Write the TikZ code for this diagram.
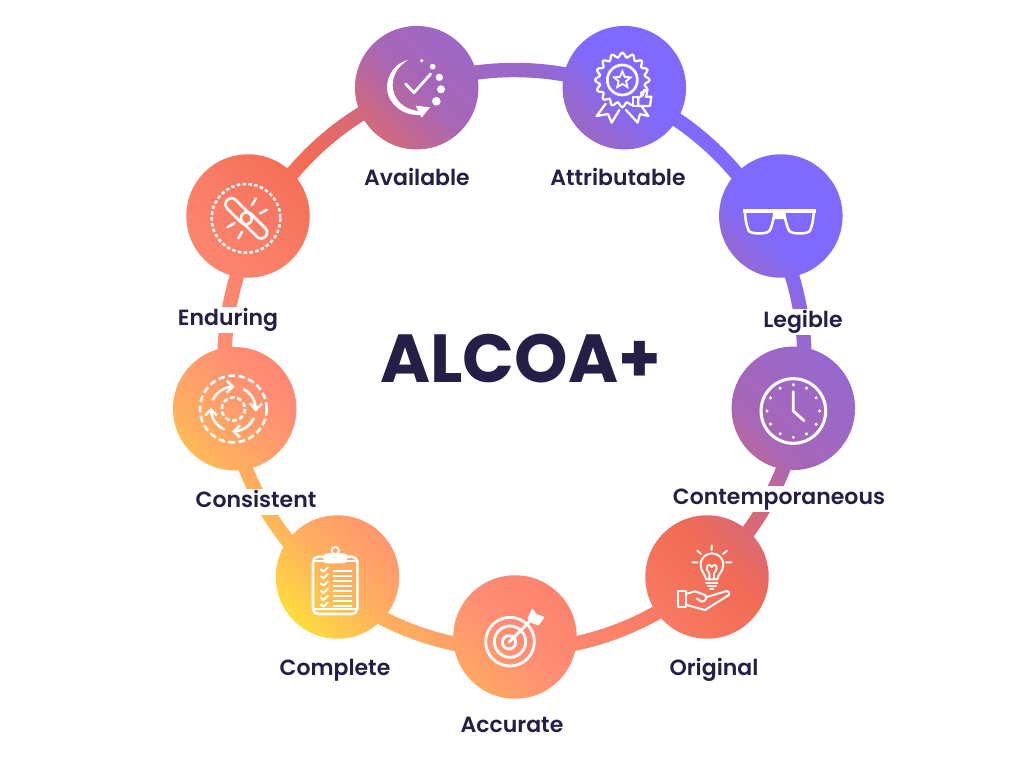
\documentclass[tikz,border=0pt]{standalone}
\usepackage{fontspec}
\setmainfont{Poppins}[BoldFont={Poppins SemiBold}]
\newfontfamily\heavyfont{Poppins Bold}
\usetikzlibrary{calc,arrows.meta,shapes.geometric,backgrounds}
\definecolor{inkc}{HTML}{231F47}
\definecolor{ga}{HTML}{FFD940}
\definecolor{gb}{HTML}{FFAE60}
\definecolor{gc}{HTML}{FF8C75}
\definecolor{gd}{HTML}{F97C66}
\definecolor{ge}{HTML}{F26B55}
\definecolor{gf}{HTML}{D4697A}
\definecolor{gg}{HTML}{A866B5}
\definecolor{gi}{HTML}{9668CE}
\definecolor{gh}{HTML}{7F69FF}
% u = x - y in pixels; t = 50 + (u-128)*0.034527
\pgfdeclareverticalshading{alcoa}{100bp}{color(0bp)=(ga); color(34.4bp)=(ga); color(37.47bp)=(gb); color(41.44bp)=(gc); color(46.6bp)=(gd); color(50.8bp)=(ge); color(53.87bp)=(gf); color(56.97bp)=(gg); color(61.8bp)=(gi); color(64.2bp)=(gh); color(100bp)=(gh)}
\tikzset{
  grad/.style={path picture={\shade[shading=alcoa,shading angle=-45] (gradA) rectangle (gradB);}},
  stage/.style={circle,minimum size=92.6pt,inner sep=0pt,grad},
  lbl/.style={anchor=base,fill=white,inner xsep=0pt,inner ysep=0pt,text height=13.5pt,text depth=6pt,text=inkc,font=\fontsize{16.5pt}{19pt}\selectfont\bfseries},
  zm/.style 2 args={x=.25pt,y=-.25pt,shift={(#1*3,#2*3)}},
  ico/.style={draw=white,line width=1.7pt,line cap=round,line join=round,fill=none}
}
\newcommand{\ringlink}[2]{%
  \path[grad] let \p1=($(#1)-(ring)$),\p2=($(#2)-(ring)$),
    \n1={mod(atan2(\y1,\x1)+360,360)},
    \n2={\n1+mod(atan2(\y2,\x2)-\n1+720,360)} in
    ($(ring)+(\n1:222.9pt)$) arc[start angle=\n1,end angle=\n2,radius=222.9pt]
    -- ($(ring)+(\n2:212.1pt)$) arc[start angle=\n2,end angle=\n1,radius=212.1pt] -- cycle;}
\begin{document}
\begin{tikzpicture}[x=.75pt,y=-.75pt]
\useasboundingbox (0,0) rectangle (1024,768);
\coordinate (gradA) at (0,-128);
\coordinate (gradB) at (1024,896);
\coordinate (ring) at (514.5,360);
\node[stage] (nAv) at (416.7,87.7) {};
\node[stage] (nAt) at (624.3,87.7) {};
\node[stage] (nLe) at (780.8,216) {};
\node[stage] (nCo) at (793.3,408.3) {};
\node[stage] (nOr) at (707,577) {};
\node[stage] (nAc) at (515,637) {};
\node[stage] (nCm) at (337.5,577) {};
\node[stage] (nCs) at (234.7,408.7) {};
\node[stage] (nEn) at (248,216) {};
\begin{pgfonlayer}{background}
\fill[white] (0,0) rectangle (1024,768);
\ringlink{nAt}{nAv}
\ringlink{nAv}{nEn}
\ringlink{nEn}{nCs}
\ringlink{nCs}{nCm}
\ringlink{nCm}{nAc}
\ringlink{nAc}{nOr}
\ringlink{nOr}{nCo}
\ringlink{nCo}{nLe}
\ringlink{nLe}{nAt}
\end{pgfonlayer}
% labels
\node[lbl] (tAv) at (417,185) {Available};
\node[lbl] (tAt) at (618,185) {Attributable};
\node[lbl] (tEn) at (228,325) {Enduring};
\node[lbl] (tLe) at (803,327) {Legible};
\node[lbl] (tCs) at (256,507) {Consistent};
\node[lbl] (tCo) at (779,504) {Contemporaneous};
\node[lbl] (tCm) at (335,675) {Complete};
\node[lbl] (tOr) at (714,675) {Original};
\node[lbl] (tAc) at (512,732) {Accurate};
\node[anchor=base,text=inkc,inner sep=0pt,font=\heavyfont\fontsize{51pt}{60pt}\selectfont] (title) at (520.5,382) {ALCOA+};
% Available icon
\begin{scope}[zm={340}{10}]
\fill[white] (205,150) .. controls (163,158) and (140,200) .. (141,235) .. controls (145,285) and (190,318) .. (243,315) -- (243,303) .. controls (195,303) and (158,270) .. (158,225) .. controls (158,192) and (178,165) .. (205,150) -- cycle;
\fill[white] (227,287) -- (270,292) -- (245,323) -- cycle;
\draw[ico,line width=2.1pt] (197,222) -- (222,248) -- (272,192);
\fill[white] (245,152) circle[radius=5.5];
\fill[white] (278,170) circle[radius=8.5];
\fill[white] (298,202) circle[radius=11];
\fill[white] (303,238) circle[radius=12];
\fill[white] (289,274) circle[radius=13];
\end{scope}
% Attributable icon
\begin{scope}[zm={340}{10}]
\draw[ico] plot[smooth cycle,samples=96,domain=0:356.25] ({847+(75+7*cos(16*\x))*cos(\x)},{210+(75+7*cos(16*\x))*sin(\x)});
\draw[ico,line width=2pt] (847,210) circle[radius=45];
\node[star,star points=5,star point ratio=2.2,draw=white,line width=1.4pt,inner sep=0pt,minimum size=13pt] (sAt) at (847,210) {};
\draw[ico] (797,281) -- (770,318) -- (804,312) -- (815,338) -- (838,300);
\draw[ico] (858,300) -- (893,338) -- (900,312) -- (925,318) -- (900,282);
\filldraw[ico,fill=gh] (878,262) rectangle (893,288);
\filldraw[ico,fill=gh] (895,264) -- (908,255) -- (913,240) .. controls (925,240) and (920,255) .. (917,260) -- (934,260) -- (930,288) -- (895,288) -- cycle;
\end{scope}
% Legible icon
\begin{scope}[zm={700}{150}]
\draw[ico,line width=2.8pt,line cap=butt] (128,184) -- (348,184);
\draw[ico,line width=1.9pt] (135,186) .. controls (135,200) and (138,225) .. (146,242) .. controls (150,252) and (198,254) .. (208,243) .. controls (215,233) and (220,210) .. (224,186);
\draw[ico,line width=1.9pt] (341,186) .. controls (341,200) and (338,225) .. (330,242) .. controls (326,252) and (278,254) .. (268,243) .. controls (261,233) and (256,210) .. (252,186);
\fill[white] (218,186) -- (258,186) -- (253,207) -- (223,207) -- cycle;
\end{scope}
% Clock icon
\begin{scope}[zm={700}{150}]
\draw[ico,line width=2.3pt] (280,783) circle[radius=97];
\foreach \a in {0,30,...,330} \fill[white] ({280+79*cos(\a)},{783+79*sin(\a)}) circle[radius=5.2];
\draw[ico,line width=2.1pt] (280,725) -- (280,783) -- (312,812);
\end{scope}
% Original icon
\begin{scope}[zm={640}{520}]
\draw[ico,line width=1.4pt] (215,76) -- (215,90) (172,92) -- (183,102) (261,92) -- (249,102) (157,127) -- (173,127) (258,127) -- (274,127);
\draw[ico,line width=1.5pt] (198,178) .. controls (195,160) and (182,155) .. (182,134) .. controls (182,112) and (200,100) .. (216,100) .. controls (235,100) and (250,115) .. (250,134) .. controls (250,155) and (235,160) .. (232,178) -- cycle;
\draw[ico,line width=1.4pt] (208,178) -- (208,160) .. controls (190,140) and (208,125) .. (215,142) .. controls (224,125) and (240,140) .. (222,160) -- (222,178);
\draw[ico,line width=1.5pt] (198,188) -- (232,188) (203,197) -- (228,197) (210,206) -- (220,206);
\draw[ico,line width=1.5pt] (113,212) rectangle (137,260);
\draw[ico,line width=1.5pt] (137,222) -- (165,214) -- (195,225) .. controls (205,232) and (195,245) .. (185,245) -- (170,235);
\draw[ico,line width=1.5pt] (197,232) -- (260,213) .. controls (270,215) and (270,225) .. (262,228) -- (195,270) -- (165,262) -- (137,254);
\end{scope}
% Accurate icon
\begin{scope}[zm={270}{510}]
\draw[ico,line width=2.1pt] (720,395) circle[radius=73];
\draw[ico,line width=2.1pt] (720,395) circle[radius=47];
\draw[ico,line width=2.1pt] (717,397) circle[radius=20];
\draw[ico,line width=2.2pt] (717,397) -- (785,328);
\filldraw[ico,line width=1.4pt,fill=white] (775,325) -- (788,300) -- (798,315) -- (820,322) -- (805,343) -- (787,337) -- cycle;
\end{scope}
% Complete icon
\begin{scope}[zm={270}{510}]
\draw[ico,line width=1.9pt,rounded corners=4pt] (129,140) rectangle (262,312);
\draw[ico,line width=1.4pt] (135,153) -- (160,153) (232,153) -- (256,153) (135,296) -- (256,296);
\fill[white,rounded corners=2.5pt] (160,130) rectangle (232,160);
\draw[ico,line width=1.4pt] (196,122) circle[radius=11];
\foreach \yy in {178,198,220,242,263,283} \draw[ico,line width=1.5pt] (152,\yy) -- (160,\yy+7) -- (174,\yy-6);
\foreach \yy in {182,197,212,228,243,258,272,287} \draw[ico,line width=1.4pt,line cap=butt] (188,\yy) -- (246,\yy);
\end{scope}
% Consistent icon
\begin{scope}[zm={160}{150}]
\draw[ico,line width=1.9pt,line cap=butt,dash pattern=on 5pt off 2.6pt] (220,777) circle[radius=100];
\draw[ico,line width=1.9pt,line cap=butt,dash pattern=on 3.5pt off 2pt] (220,777) circle[radius=35];
\foreach \a in {-155,-62,25,115}
  \draw[ico,line width=1.9pt,-{Straight Barb[length=4.5pt,width=9pt]}] plot[smooth,samples=9,domain=\a:\a+68] ({220+67*cos(\x)},{777+67*sin(\x)});
\end{scope}
% Enduring icon
\begin{scope}[zm={160}{150}]
\draw[ico,line width=1.9pt,line cap=butt,dash pattern=on 2.6pt off 1.8pt] (258,205) circle[radius=103];
\draw[ico,line width=2pt,rounded corners=4.5pt] (282.7,205.3) -- (257.3,230.7) -- (189.3,162.7) -- (214.7,137.3) -- cycle;
\draw[ico,line width=2pt,rounded corners=4.5pt] (328.7,247.3) -- (303.3,272.7) -- (235.3,204.7) -- (260.7,179.3) -- cycle;
\draw[ico,line width=1.8pt] (276,165) -- (288,145) (300,190) -- (321,179) (202,232) -- (224,219) (235,265) -- (246,245);
\end{scope}
\end{tikzpicture}
\end{document}
